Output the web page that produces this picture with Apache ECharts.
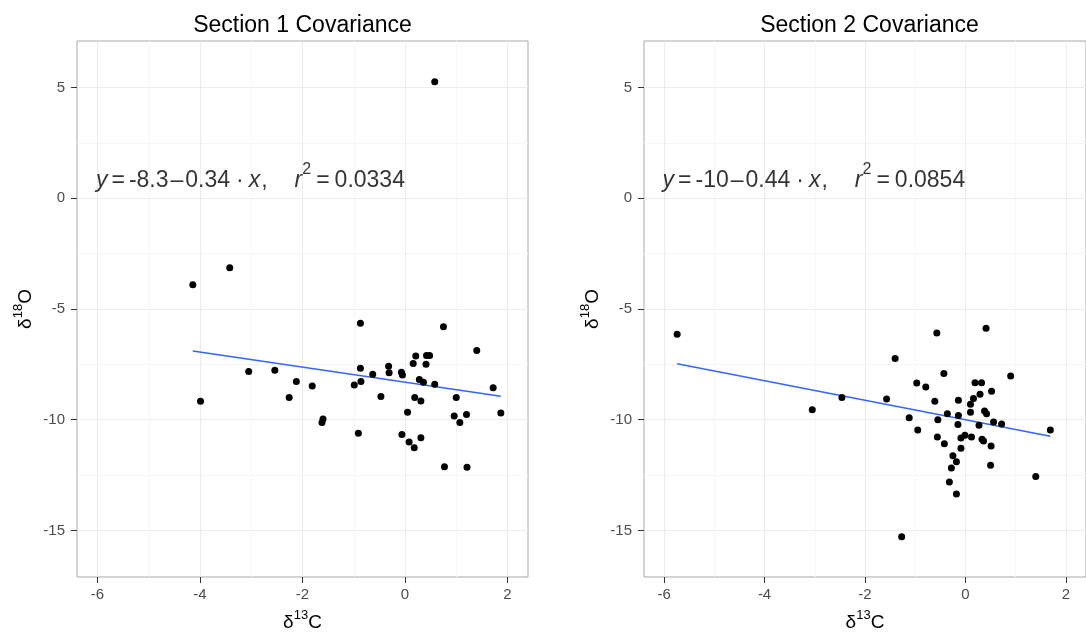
<!DOCTYPE html>
<html>
<head>
<meta charset="utf-8">
<script src="https://cdn.jsdelivr.net/npm/echarts@6/dist/echarts.min.js"></script>
<style>
  html, body { margin: 0; padding: 0; background: #fff; }
  #chart { width: 1086px; height: 637px; }
</style>
</head>
<body>
<div id="chart"></div>
<script>
// Panel titles
const panelTitles = ['Section 1 Covariance', 'Section 2 Covariance'];

// Section 1: δ13C / δ18O pairs
const s1x = [-4.14, -3.42, -3.99, -3.05, -2.54, -2.12, -2.26, -1.81, -1.60, -1.62,
             -0.87, -0.87, -0.99, -0.86, -0.91, -0.63, -0.47, -0.32, -0.31, -0.07,
             -0.05, -0.06, 0.05, 0.08, 0.18, 0.16, 0.21, 0.19, 0.31, 0.28,
             0.36, 0.31, 0.41, 0.42, 0.48, 0.58, 0.75, 0.77, 1.00, 0.96,
             1.07, 1.20, 1.21, 1.40, 1.72, 1.87, 0.58];
const s1y = [-3.91, -3.14, -9.16, -7.82, -7.76, -8.27, -9.00, -8.48, -9.97, -10.13,
             -5.64, -7.68, -8.43, -8.27, -10.61, -7.95, -8.95, -7.58, -7.88, -7.86,
             -7.98, -10.67, -9.66, -11.00, -11.26, -7.46, -7.12, -9.00, -9.15, -8.18,
             -8.31, -10.81, -7.49, -7.10, -7.10, -8.40, -5.80, -12.12, -9.00, -9.83,
             -10.12, -9.76, -12.15, -6.87, -8.55, -9.69, 5.26];

// Section 2: δ13C / δ18O pairs
const s2x = [-5.74, -3.05, -2.46, -1.57, -1.40, -1.12, -0.97, -0.95, -0.79, -0.57,
             -0.61, -0.55, -0.56, -0.43, -0.42, -0.36, -0.25, -0.28, -0.32, -0.18,
             -0.18, -0.14, -0.14, -0.15, -0.09, -0.09, -0.01, 0.10, 0.10, 0.16,
             0.12, 0.19, 0.32, 0.29, 0.27, 0.33, 0.36, 0.38, 0.42, 0.41,
             0.52, 0.51, 0.50, 0.56, 0.72, 0.90, 1.40, 1.69, -1.27];
const s2y = [-6.14, -9.55, -9.00, -9.06, -7.23, -9.91, -8.34, -10.46, -8.52, -6.08,
             -9.16, -10.00, -10.78, -7.91, -11.08, -9.73, -11.63, -12.18, -12.81, -11.90,
             -13.35, -9.12, -9.81, -10.22, -10.82, -11.29, -10.70, -9.30, -9.66, -9.04,
             -10.78, -8.33, -8.33, -8.85, -10.25, -10.88, -10.96, -9.61, -9.73, -5.87,
             -8.71, -11.18, -12.05, -10.10, -10.19, -8.03, -12.56, -10.46, -15.28];

// Linear fits (intercept, slope, r²) per section
const fitIntercept = [-8.3, -10];
const fitSlope = [-0.34, -0.44];
const fitR2 = ['0.0334', '0.0854'];

// Tick labels
const xTicks = [-6, -4, -2, 0, 2];
const yTicks = [-15, -10, -5, 0, 5];

const FONT = '"Liberation Sans", Arial, Helvetica, sans-serif';
const xs = [s1x, s2x];
const ys = [s1y, s2y];

const chart = echarts.init(document.getElementById('chart'), null, { renderer: 'canvas' });

const grids = [
  { left: 77, top: 41, width: 451, height: 538 },
  { left: 644, top: 41, width: 451, height: 538 }
];

// axis titles with a raised isotope number
const supRich = {
  n: { fontSize: 19, lineHeight: 27, color: '#000', fontFamily: FONT },
  sup: { fontSize: 13, lineHeight: 13, verticalAlign: 'top', color: '#000', fontFamily: FONT }
};

function xAxis(i) {
  return {
    gridIndex: i, type: 'value', min: -6.4, max: 2.4, splitNumber: 5,
    axisLine: { show: false, onZero: false },
    axisTick: { show: true, length: 6, customValues: xTicks, lineStyle: { color: '#333', width: 1 } },
    minorTick: { show: false, splitNumber: 2 },
    axisLabel: { customValues: xTicks, margin: 10, color: '#4d4d4d', fontSize: 15, fontFamily: FONT },
    splitLine: { show: true, lineStyle: { color: '#ebebeb', width: 1 } },
    minorSplitLine: { show: true, lineStyle: { color: '#f6f6f6', width: 1 } },
    name: '{n|δ}{sup|13}{n|C}', nameLocation: 'middle', nameGap: 32,
    nameTextStyle: { rich: supRich }
  };
}

function yAxis(i) {
  return {
    gridIndex: i, type: 'value', min: -17.1, max: 7.1, splitNumber: 5,
    axisLine: { show: false, onZero: false },
    axisTick: { show: true, length: 6, customValues: yTicks, lineStyle: { color: '#333', width: 1 } },
    minorTick: { show: false, splitNumber: 2 },
    axisLabel: { customValues: yTicks, margin: 12, color: '#4d4d4d', fontSize: 15, fontFamily: FONT },
    splitLine: { show: true, lineStyle: { color: '#ebebeb', width: 1 } },
    minorSplitLine: { show: true, lineStyle: { color: '#f6f6f6', width: 1 } },
    name: '{n|δ}{sup|18}{n|O}', nameLocation: 'middle', nameGap: 38,
    nameTextStyle: { rich: supRich }
  };
}

// rich styles for the fit equation; pN = extra left padding in px
const eqRich = {};
[0, 1, 2, 3, 4, 5, 6, 27].forEach(p => {
  eqRich['n' + p] = { fontSize: 23, lineHeight: 39, color: '#000', fontFamily: FONT, padding: [0, 0, 0, p] };
  eqRich['i' + p] = { fontSize: 23, lineHeight: 39, fontStyle: 'italic', color: '#000', fontFamily: FONT, padding: [0, 0, 0, p] };
});
eqRich.sup = { fontSize: 16, lineHeight: 16, verticalAlign: 'top', color: '#000', fontFamily: FONT };

function equation(b, m, r2) {
  const sign = m < 0 ? '–' : '+';
  return '{i0|y}{n4|=}{n4|' + String(b) + '}{n2|' + sign + '}{n2|' + String(Math.abs(m)) + '}' +
         '{n6|·}{i5|x}{n1|,}{i27|r}{sup|2}{n5|=}{n5|' + r2 + '}';
}

const series = [];
for (let i = 0; i < 2; i++) {
  const pts = xs[i].map((x, k) => [x, ys[i][k]]);
  series.push({
    type: 'scatter', xAxisIndex: i, yAxisIndex: i, data: pts,
    symbolSize: 7, itemStyle: { color: '#000', opacity: 1 }, z: 3
  });
  // fitted line across the observed δ13C range
  const xmin = Math.min.apply(null, xs[i]);
  const xmax = Math.max.apply(null, xs[i]);
  const b = fitIntercept[i], m = fitSlope[i];
  series.push({
    type: 'line', xAxisIndex: i, yAxisIndex: i, symbol: 'none', silent: true,
    data: [[xmin, b + m * xmin], [xmax, b + m * xmax]],
    lineStyle: { color: '#3366ff', width: 1.5 }, z: 2
  });
  series.push({
    type: 'scatter', xAxisIndex: i, yAxisIndex: i, silent: true,
    data: [[-6.04, 0.78]], symbolSize: 1, itemStyle: { color: 'rgba(0,0,0,0)' },
    label: {
      show: true, position: 'right', distance: 0,
      formatter: equation(b, m, fitR2[i]),
      rich: eqRich
    },
    z: 4
  });
}

chart.setOption({
  animation: false,
  backgroundColor: '#fff',
  grid: grids.map(g => Object.assign({ show: true, borderColor: '#a8a8a8', borderWidth: 1, backgroundColor: '#fff' }, g)),
  xAxis: [xAxis(0), xAxis(1)],
  yAxis: [yAxis(0), yAxis(1)],
  graphic: panelTitles.map((t, i) => ({
    type: 'text',
    x: grids[i].left + grids[i].width / 2,
    y: 26,
    style: {
      text: t, fill: '#000', font: '23px ' + FONT,
      textAlign: 'center', textVerticalAlign: 'middle',
      align: 'center', verticalAlign: 'middle'
    }
  })),
  series: series
});
</script>
</body>
</html>
